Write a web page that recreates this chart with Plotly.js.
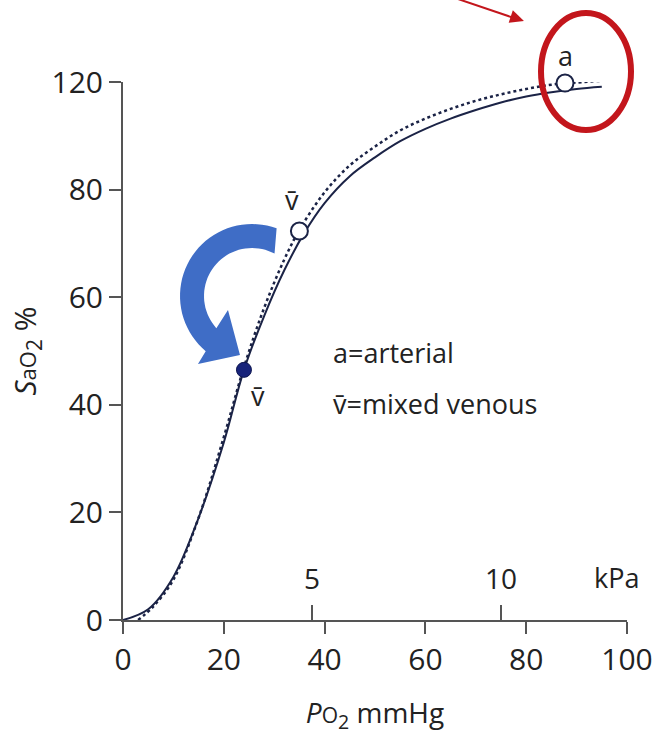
<!DOCTYPE html>
<html>
<head>
<meta charset="utf-8">
<script src="https://cdn.plot.ly/plotly-3.0.1.min.js"></script>
<style>html,body{margin:0;padding:0;background:#fff;}#chart{width:672px;height:735px;}</style>
</head>
<body>
<div id="chart"></div>
<script>
// ---- data (mmHg, %) ----
const solidX = [0, 5, 10, 15, 20, 24, 28, 32, 36, 40, 45, 50, 55, 60, 65, 70, 75, 80, 85, 90, 95];
const solidY = [0, 2, 8, 19, 33, 46.5, 56.5, 65, 72, 77.5, 82.5, 86, 89, 91.3, 93.2, 94.8, 96.2, 97.3, 98.1, 98.7, 99.1];
const dotX = [3, 6, 10, 15, 20, 24, 28, 32, 35, 40, 45, 50, 55, 60, 65, 70, 75, 80, 85, 90, 96];
const dotY = [0, 2.5, 7.5, 19, 34, 47, 58, 67, 72.5, 79.5, 84.5, 88, 91, 93.2, 95, 96.5, 97.7, 98.7, 99.5, 99.9, 100.3];
const pointNames = ['v_open', 'v_filled', 'a'];
const pointX = [35, 24, 87.7];
const pointY = [72.3, 46.5, 99.8];
const xTicks = [0, 20, 40, 60, 80, 100];
const yTickVals = [0, 20, 40, 60, 80, 100];
const yTickText = ['0', '20', '40', '60', '80', '120'];
const kPaTicks = [5, 10];
const MMHG_PER_KPA = 7.50062;

// ---- geometry helpers (pixel -> paper) ----
const L = 123, R = 627, T = 82, B = 620;
const px = x => (x - L) / (R - L);
const py = y => (B - y) / (B - T);
const toPath = pts => 'M ' + pts.map(p => px(p[0]).toFixed(4) + ',' + py(p[1]).toFixed(4)).join(' L ') + ' Z';

// blue curved arrow polygon
function blueArrowPath() {
  const cx = 252, cy = 296, Ro = 72, Ri = 48;
  const pts = [];
  for (let a = 70; a <= 230; a += 4) {
    const r = a * Math.PI / 180;
    pts.push([cx + Ro * Math.cos(r), cy - Ro * Math.sin(r)]);
  }
  pts.push([198, 364]);
  pts.push([240, 355]);
  pts.push([228, 310]);
  for (let a = 222; a >= 62; a -= 4) {
    const r = a * Math.PI / 180;
    pts.push([cx + Ri * Math.cos(r), cy - Ri * Math.sin(r)]);
  }
  return toPath(pts);
}
// red arrow head (tip at 524,21 pointing down-right)
function redHeadPath() {
  const tip = [524, 21], dx = 62, dy = 21, len = Math.hypot(dx, dy);
  const ux = dx / len, uy = dy / len, hl = 14, hw = 6.5;
  const bx = tip[0] - ux * hl, by = tip[1] - uy * hl;
  return toPath([tip, [bx - uy * hw, by + ux * hw], [bx + uy * hw, by - ux * hw]]);
}

const ink = '#1b2346';
const font = 'Open Sans, Noto Sans, sans-serif';
const red = '#c3161c';

const traces = [
  {x: dotX, y: dotY, mode: 'lines', line: {color: ink, width: 2.5, dash: 'dot', shape: 'spline'}, cliponaxis: false, hoverinfo: 'skip'},
  {x: solidX, y: solidY, mode: 'lines', line: {color: ink, width: 2, shape: 'spline'}, cliponaxis: false, hoverinfo: 'skip'},
  {x: [pointX[0], pointX[2]], y: [pointY[0], pointY[2]], mode: 'markers', cliponaxis: false,
   marker: {size: 17, color: '#ffffff', line: {color: ink, width: 2}}},
  {x: [pointX[1]], y: [pointY[1]], mode: 'markers', cliponaxis: false,
   marker: {size: 15, color: '#17237a', line: {color: '#0e1650', width: 1}}},
  {x: kPaTicks.map(k => k * MMHG_PER_KPA), y: [0, 0], xaxis: 'x2', mode: 'markers', marker: {opacity: 0}, hoverinfo: 'skip'}
];

const kPaLabels = kPaTicks.map(k => ({
  x: k * MMHG_PER_KPA, xref: 'x', y: py(578), yref: 'paper', yanchor: 'middle', xanchor: 'center',
  text: String(k), showarrow: false, font: {size: 28, family: font, color: '#222'}
}));

const layout = {
  width: 672, height: 735,
  margin: {l: L, r: 672 - R, t: T, b: 735 - B},
  paper_bgcolor: '#ffffff', plot_bgcolor: '#ffffff',
  showlegend: false,
  font: {family: font, color: '#222222'},
  xaxis: {
    range: [0, 100], tickvals: xTicks, ticks: 'outside', ticklen: 12, tickwidth: 2, tickcolor: '#555',
    showline: true, linecolor: '#555', linewidth: 2, showgrid: false, zeroline: false,
    tickfont: {size: 30, family: font, color: '#222'},
    title: {text: '<i>P</i><span style="font-size:21px">O</span><sub>2</sub> mmHg', font: {size: 28, family: font, color: '#222'}, standoff: 26}
  },
  xaxis2: {
    overlaying: 'x', anchor: 'y', side: 'bottom', range: [0, 100],
    tickvals: kPaTicks.map(k => k * MMHG_PER_KPA), showticklabels: false,
    ticks: 'inside', ticklen: 15, tickwidth: 2, tickcolor: '#555',
    showline: false, showgrid: false, zeroline: false
  },
  yaxis: {
    range: [0, 100], tickvals: yTickVals, ticktext: yTickText, ticks: 'outside', ticklen: 12, tickwidth: 2, tickcolor: '#555',
    showline: true, linecolor: '#555', linewidth: 2, showgrid: false, zeroline: false,
    tickfont: {size: 30, family: font, color: '#222'},
    title: {text: '<i>S</i><span style="font-size:22px">aO</span><sub>2</sub> %', font: {size: 30, family: font, color: '#222'}, standoff: 6}
  },
  shapes: [
    {type: 'circle', xref: 'paper', yref: 'paper', x0: px(541), x1: px(631), y0: py(130), y1: py(13),
     line: {color: red, width: 6}},
    {type: 'line', xref: 'paper', yref: 'paper', x0: px(458), y0: py(-1), x1: px(514), y1: py(18),
     line: {color: red, width: 2}},
    {type: 'path', xref: 'paper', yref: 'paper', path: redHeadPath(), fillcolor: red, line: {width: 0}},
    {type: 'path', xref: 'paper', yref: 'paper', path: blueArrowPath(), fillcolor: '#3f6dc6', line: {width: 0}, layer: 'above'}
  ],
  annotations: [
    {x: pointX[0], y: pointY[0], text: 'v\u0304', showarrow: false, yshift: 32, xshift: -7, font: {size: 27, family: font, color: '#222'}},
    {x: pointX[1], y: pointY[1], text: 'v\u0304', showarrow: false, yshift: -26, xshift: 14, font: {size: 27, family: font, color: '#222'}},
    {x: pointX[2], y: pointY[2], text: 'a', showarrow: false, yshift: 28, font: {size: 27, family: font, color: '#222'}},
    {x: px(331), y: py(352), xref: 'paper', yref: 'paper', xanchor: 'left', yanchor: 'middle', text: 'a=arterial', showarrow: false, font: {size: 27, family: font, color: '#222'}},
    {x: px(331), y: py(403), xref: 'paper', yref: 'paper', xanchor: 'left', yanchor: 'middle', text: 'v\u0304=mixed venous', showarrow: false, font: {size: 27, family: font, color: '#222'}},
    {x: px(616), y: py(577), xref: 'paper', yref: 'paper', xanchor: 'center', yanchor: 'middle', text: 'kPa', showarrow: false, font: {size: 27, family: font, color: '#222'}}
  ].concat(kPaLabels)
};

Plotly.newPlot('chart', traces, layout, {staticPlot: true, displayModeBar: false});
</script>
</body>
</html>
